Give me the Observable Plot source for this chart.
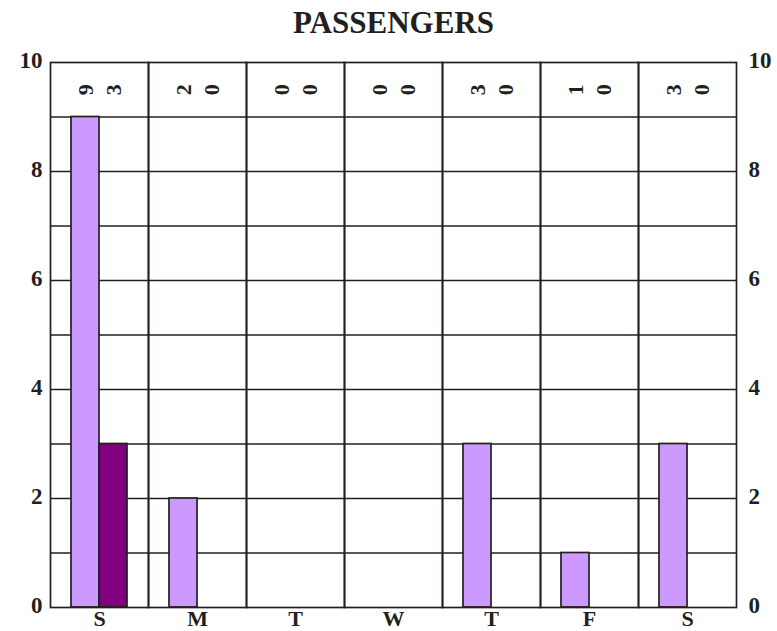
<!DOCTYPE html>
<html>
<head>
<meta charset="utf-8">
<script src="https://cdn.jsdelivr.net/npm/d3@7"></script>
<script src="https://cdn.jsdelivr.net/npm/@observablehq/plot@0.6"></script>
<style>
  body { margin: 0; background: #fff; }
  #title { width: 777px; height: 45px; line-height: 45px; text-align: center; padding-left: 10px; box-sizing: border-box;
    font-family: "Liberation Serif", "Times New Roman", serif; font-weight: bold; font-size: 31px; color: #231f20; }
</style>
</head>
<body>
<div id="title">PASSENGERS</div>
<div id="chart"></div>
<script>
const days = ["S", "M", "T", "W", "T", "F", "S"];
const seriesNames = ["A", "B"];
const seriesA = [9, 2, 0, 0, 3, 1, 3];
const seriesB = [3, 0, 0, 0, 0, 0, 0];
const colors = ["#cc99ff", "#800080"];
const yTicks = [0, 2, 4, 6, 8, 10];
const gridTicks = [1, 2, 3, 4, 5, 6, 7, 8, 9];

const data = [];
days.forEach((d, i) => {
  data.push({day: i, series: "A", value: seriesA[i]});
  data.push({day: i, series: "B", value: seriesB[i]});
});

const ink = "#231f20";
const chart = Plot.plot({
  width: 777,
  height: 586,
  marginTop: 17,
  marginBottom: 24,
  marginLeft: 49,
  marginRight: 40,
  style: {fontFamily: "'Liberation Serif', 'Times New Roman', serif", fontWeight: "bold", color: ink, background: "#fff"},
  fx: {domain: d3.range(days.length), paddingInner: 0, paddingOuter: 0, label: null},
  x: {domain: seriesNames, paddingInner: 0, paddingOuter: 0.75, axis: null},
  y: {domain: [0, 10], label: null},
  color: {domain: seriesNames, range: colors},
  marks: [
    Plot.gridY(gridTicks, {stroke: ink, strokeOpacity: 1, strokeWidth: 1.7}),
    Plot.barY(data.filter(d => d.value > 0), {fx: "day", x: "series", y: "value", fill: "series", stroke: ink, strokeWidth: 1.7}),
    Plot.text(data, {fx: "day", x: "series", y: () => 9.5, text: d => String(d.value), rotate: -90, fontSize: 22, fontWeight: "bold", fill: ink}),
    Plot.frame({stroke: ink, strokeWidth: 1.7}),
    Plot.axisY(yTicks, {anchor: "left", tickSize: 0, tickPadding: 8, dy: -2, fontSize: 23, fontWeight: "bold", label: null, tickFormat: d => String(d)}),
    Plot.axisY(yTicks, {anchor: "right", tickSize: 0, tickPadding: 12, dy: -2, fontSize: 23, fontWeight: "bold", label: null, tickFormat: d => String(d)}),
    Plot.axisFx({anchor: "bottom", tickSize: 0, tickPadding: 3, fontSize: 22, fontWeight: "bold", tickFormat: i => days[i], label: null})
  ]
});
document.getElementById("chart").appendChild(chart);
</script>
</body>
</html>
